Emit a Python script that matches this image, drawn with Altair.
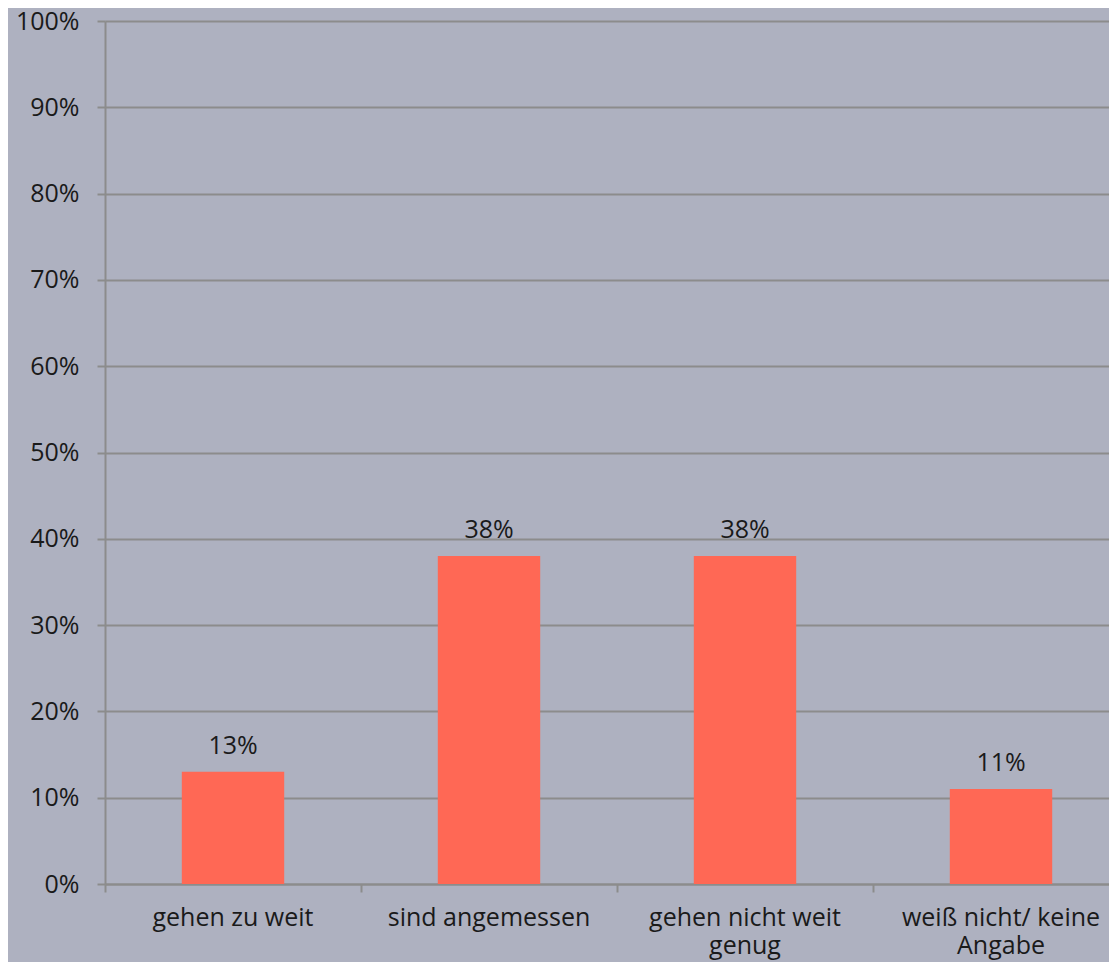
import altair as alt
import pandas as pd

categories = ["gehen zu weit", "sind angemessen", "gehen nicht weit genug", "weiß nicht/ keine Angabe"]
label_lines = [["gehen zu weit"], ["sind angemessen"], ["gehen nicht weit", "genug"], ["weiß nicht/ keine", "Angabe"]]
values = [0.13, 0.38, 0.38, 0.11]
value_labels = ["13%", "38%", "38%", "11%"]
y_ticks = [0, 0.1, 0.2, 0.3, 0.4, 0.5, 0.6, 0.7, 0.8, 0.9, 1.0]

df = pd.DataFrame({"cat": categories, "val": values, "lab": value_labels})

# build label expression for multi-line axis labels
parts = []
for c, lines in zip(categories, label_lines):
    arr = "[" + ",".join("'" + l + "'" for l in lines) + "]"
    parts.append(f"datum.value == '{c}' ? {arr} : ")
label_expr = "".join(parts) + "datum.label"

FONT = "Open Sans"
GRID = "#8C8C8C"
TXT = "#1a1a1a"

# 256px bands; the last band runs past the right edge of the view
xscale = alt.Scale(paddingInner=0, paddingOuter=0, rangeMax=1024)

label_axis = alt.Axis(
    orient="bottom",
    title=None,
    labelAngle=0,
    ticks=True,
    tickSize=8,
    tickOpacity=0,
    domain=False,
    labelExpr=label_expr,
    labelPadding=13,
    labelLineHeight=28,
    labelFontSize=25,
    labelFont=FONT,
    labelColor=TXT,
    labelLimit=400,
    grid=False,
)

tick_axis = alt.Axis(
    orient="bottom",
    title=None,
    labels=False,
    bandPosition=0,
    ticks=True,
    tickSize=8,
    tickColor=GRID,
    tickWidth=2,
    domain=True,
    domainColor=GRID,
    domainWidth=2,
    grid=False,
)

y = alt.Y(
    "val:Q",
    scale=alt.Scale(domain=[0, 1], nice=False),
    axis=alt.Axis(
        title=None,
        values=y_ticks,
        format=".0%",
        grid=True,
        gridColor=GRID,
        gridWidth=2,
        tickSize=8,
        tickColor=GRID,
        tickWidth=2,
        domainColor=GRID,
        domainWidth=2,
        labelPadding=18,
        labelFontSize=25,
        labelFont=FONT,
        labelColor=TXT,
    ),
)

bars = alt.Chart(df).mark_bar(color="#FF6855", width=alt.RelativeBandSize(0.4)).encode(
    x=alt.X("cat:N", sort=categories, scale=xscale, axis=label_axis), y=y
)
text = alt.Chart(df).mark_text(
    baseline="alphabetic", dy=-18, fontSize=25, font=FONT, color=TXT
).encode(
    x=alt.X("cat:N", sort=categories, axis=tick_axis), y=y, text="lab:N"
)

chart = (
    alt.layer(bars, text)
    .resolve_axis(x="independent")
    .properties(
        width=1004,
        height=863,
        background="#AEB1C0",
        autosize=alt.AutoSizeParams(type="none"),
        padding={"left": 97, "top": 13, "right": 0, "bottom": 78},
    )
    .configure_view(stroke=None)
)

chart.save("out.html", embed_options={"renderer": "svg", "actions": False})
